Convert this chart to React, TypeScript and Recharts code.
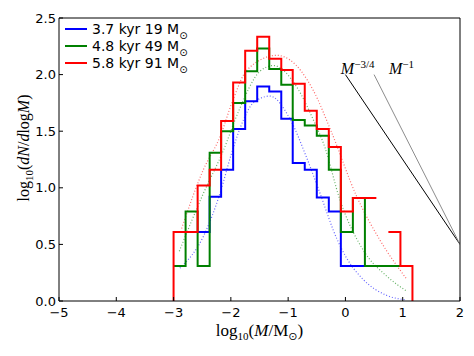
import { Label, Legend, Line, LineChart, ReferenceDot, XAxis, YAxis } from "recharts";

// bin edges of the log-mass histogram
const binEdges = [
	-3.0, -2.79, -2.58, -2.37, -2.17, -1.96, -1.75, -1.54, -1.33, -1.12, -0.92, -0.71, -0.5, -0.29, -0.08, 0.13,
	0.34, 0.54, 0.75, 0.96, 1.17,
];

// log10(dN/dlogM) per bin, null = empty bin
const blueHist = [null, null, 0.61, 0.92, 1.16, 1.52, 1.765, 1.895, 1.85, 1.61, 1.22, 1.16, 0.915, 0.79, 0.31, 0.31, null, null, null, null];
const greenHist = [0.31, 0.79, 0.31, 1.31, 1.5, 1.75, 2.03, 2.23, 2.05, 1.91, 1.6, 1.55, 1.46, 1.16, 0.61, 0.91, 0.31, 0.31, 0.31, null];
const redHist = [0.61, 0.61, 1.02, 1.16, 1.59, 1.93, 2.21, 2.335, 2.14, 2.04, 1.92, 1.68, 1.52, 1.36, 0.79, 0.91, 0.91, null, 0.61, 0.31];

// dotted fits
const blueFitX = [-2.89, -2.48, -2.19, -1.99, -1.78, -1.61, -1.32, -0.97, -0.68, -0.45, -0.15, 0.02, 0.31, 0.72, 1.06];
const blueFitY = [0.29, 0.57, 0.95, 1.3, 1.6, 1.75, 1.81, 1.61, 1.27, 0.96, 0.55, 0.38, 0.19, 0.05, 0.01];
const greenFitX = [-2.9, -2.48, -2.13, -1.87, -1.49, -1.26, -0.85, -0.56, -0.36, -0.1, 0.31, 0.72, 1.06];
const greenFitY = [0.44, 0.95, 1.33, 1.67, 2.03, 2.08, 1.89, 1.6, 1.36, 0.9, 0.45, 0.22, 0.09];
const redFitX = [-2.86, -2.48, -2.19, -1.96, -1.72, -1.2, -0.97, -0.56, -0.25, 0.2, 0.6, 1.06];
const redFitY = [0.64, 1.16, 1.45, 1.78, 2.04, 2.17, 2.13, 1.86, 1.5, 0.92, 0.54, 0.2];

// reference power laws
const slope34X = [0, 2];
const slope34Y = [2.0, 0.5];
const slope1X = [0.5, 2];
const slope1Y = [2.0, 0.5];
const slopeLabelX = [-0.08, 0.76];
const slopeLabelY = 2.0;

const seriesNames = ["3.7 kyr 19 M", "4.8 kyr 49 M", "5.8 kyr 91 M"];
const seriesColors = ["#0000ff", "#008000", "#ff0000"];

const xTicks = [-5, -4, -3, -2, -1, 0, 1, 2];
const yTicks = [0, 0.5, 1.0, 1.5, 2.0, 2.5];

const PLOT = { left: 59, right: 460, top: 18, bottom: 301 };
const sans = "'DejaVu Sans', sans-serif";
const serif = "'Liberation Serif', serif";

type Pt = { x: number; y: number | null };

function steps(hist: (number | null)[], closed = false): Pt[] {
	const pts: Pt[] = [];
	if (closed) pts.push({ x: binEdges[0], y: 0 });
	hist.forEach((v, k) => {
		if (v == null) {
			pts.push({ x: binEdges[k], y: null });
			return;
		}
		pts.push({ x: binEdges[k], y: v }, { x: binEdges[k + 1], y: v });
	});
	if (closed) pts.push({ x: binEdges[hist.length], y: 0 });
	return pts;
}

const zip = (xs: number[], ys: number[]): Pt[] => xs.map((x, i) => ({ x, y: ys[i] }));

const fmtX = (v: number) => (v < 0 ? `\u2212${Math.abs(v)}` : `${v}`);

function BottomTick(props: any) {
	const { x, payload } = props;
	return (
		<g>
			<line x1={x} x2={x} y1={PLOT.bottom} y2={PLOT.bottom - 4} stroke="#000" />
			<text x={x} y={PLOT.bottom + 16} textAnchor="middle" fontSize={13} fontFamily={sans} fill="#000">
				{fmtX(payload.value)}
			</text>
		</g>
	);
}

function TopTick(props: any) {
	const { x } = props;
	return <line x1={x} x2={x} y1={PLOT.top} y2={PLOT.top + 4} stroke="#000" />;
}

function LeftTick(props: any) {
	const { y, payload } = props;
	return (
		<g>
			<line x1={PLOT.left} x2={PLOT.left + 4} y1={y} y2={y} stroke="#000" />
			<text x={PLOT.left - 3} y={y + 4.5} textAnchor="end" fontSize={13} fontFamily={sans} fill="#000">
				{payload.value.toFixed(1)}
			</text>
		</g>
	);
}

function RightTick(props: any) {
	const { y } = props;
	return <line x1={PLOT.right} x2={PLOT.right - 4} y1={y} y2={y} stroke="#000" />;
}

function XTitle() {
	return (
		<text x={(PLOT.left + PLOT.right) / 2} y={336} textAnchor="middle" fontFamily={serif} fontSize={17} fill="#000">
			log
			<tspan fontSize={11} dy={4}>10</tspan>
			<tspan dy={-4}>(</tspan>
			<tspan fontStyle="italic">M</tspan>/M
			<tspan fontSize={11} dy={4} fontFamily={sans}>{"\u2299"}</tspan>
			<tspan dy={-4}>)</tspan>
		</text>
	);
}

function YTitle() {
	return (
		<text transform="translate(29,148) rotate(-90)" textAnchor="middle" fontFamily={serif} fontSize={16} fill="#000">
			log
			<tspan fontSize={11} dy={4}>10</tspan>
			<tspan dy={-4}>(</tspan>
			<tspan fontStyle="italic">dN</tspan>/<tspan fontStyle="italic">d</tspan>log<tspan fontStyle="italic">M</tspan>)
		</text>
	);
}

function SlopeText(sup: string) {
	return (props: any) => (
		<text x={props.cx} y={props.cy - 1} fontFamily={serif} fontSize={16} fill="#000">
			<tspan fontStyle="italic">M</tspan>
			<tspan fontSize={11} dy={-6}>{sup}</tspan>
		</text>
	);
}

function LegendBox() {
	return (
		<div style={{ fontFamily: sans, fontSize: 14, color: "#000" }}>
			{seriesNames.map((name, i) => (
				<div key={name} style={{ display: "flex", alignItems: "center", height: 16.7, whiteSpace: "nowrap" }}>
					<svg width={27} height={4}>
						<line x1={0} x2={22} y1={2} y2={2} stroke={seriesColors[i]} strokeWidth={2} />
					</svg>
					<span>
						{name}
						<span style={{ fontSize: 10, position: "relative", top: 5 }}>{"\u2299"}</span>
					</span>
				</div>
			))}
		</div>
	);
}

export default function App() {
	const hists = [steps(blueHist), steps(greenHist), steps(redHist, true)];
	const fits = [zip(blueFitX, blueFitY), zip(greenFitX, greenFitY), zip(redFitX, redFitY)];

	return (
		<div>
			<style>{"body{margin:0;background:#fff}"}</style>
			<LineChart width={474} height={356} margin={{ top: 0, right: 0, bottom: 0, left: 0 }}>
				<XAxis
					dataKey="x"
					type="number"
					domain={[-5, 2]}
					ticks={xTicks}
					allowDataOverflow
					height={55}
					tickLine={false}
					tick={<BottomTick />}
					axisLine={{ stroke: "#000" }}
				>
					<Label content={<XTitle />} />
				</XAxis>
				<XAxis
					xAxisId="top"
					orientation="top"
					dataKey="x"
					type="number"
					domain={[-5, 2]}
					ticks={xTicks}
					height={18}
					tickLine={false}
					tick={<TopTick />}
					axisLine={{ stroke: "#000" }}
				/>
				<YAxis
					type="number"
					domain={[0, 2.5]}
					ticks={yTicks}
					allowDataOverflow
					width={59}
					tickLine={false}
					tick={<LeftTick />}
					axisLine={{ stroke: "#000" }}
				>
					<Label content={<YTitle />} />
				</YAxis>
				<YAxis
					yAxisId="right"
					orientation="right"
					type="number"
					domain={[0, 2.5]}
					ticks={yTicks}
					width={14}
					tickLine={false}
					tick={<RightTick />}
					axisLine={{ stroke: "#000" }}
				/>
				<Legend
					layout="vertical"
					align="center"
					verticalAlign="middle"
					wrapperStyle={{ left: 65, top: 21, width: "auto" }}
					content={<LegendBox />}
				/>
				{fits.map((d, i) => (
					<Line
						key={`fit${i}`}
						data={d}
						dataKey="y"
						type="monotone"
						stroke={seriesColors[i]}
						strokeOpacity={0.6}
						strokeWidth={1.2}
						strokeDasharray="1 2"
						dot={false}
						activeDot={false}
						legendType="none"
						isAnimationActive={false}
					/>
				))}
				{hists.map((d, i) => (
					<Line
						key={`hist${i}`}
						data={d}
						dataKey="y"
						type="linear"
						stroke={seriesColors[i]}
						strokeWidth={2}
						dot={false}
						activeDot={false}
						isAnimationActive={false}
					/>
				))}
				<Line
					data={zip(slope34X, slope34Y)}
					dataKey="y"
					stroke="#000"
					strokeWidth={1}
					dot={false}
					activeDot={false}
					legendType="none"
					isAnimationActive={false}
				/>
				<Line
					data={zip(slope1X, slope1Y)}
					dataKey="y"
					stroke="#8c8c8c"
					strokeWidth={1}
					dot={false}
					activeDot={false}
					legendType="none"
					isAnimationActive={false}
				/>
				<ReferenceDot x={slopeLabelX[0]} y={slopeLabelY} shape={SlopeText("\u22123/4")} />
				<ReferenceDot x={slopeLabelX[1]} y={slopeLabelY} shape={SlopeText("\u22121")} />
			</LineChart>
		</div>
	);
}
